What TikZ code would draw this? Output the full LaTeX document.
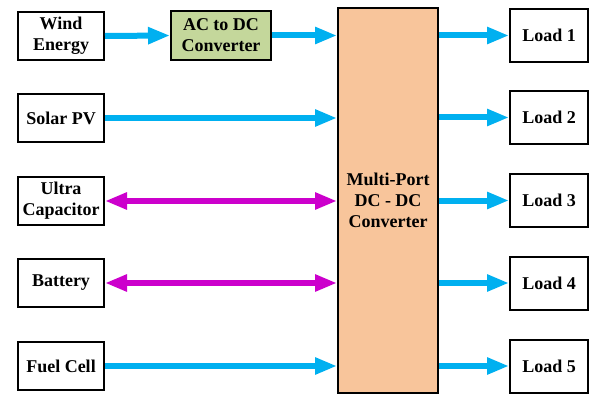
\documentclass[tikz,border=0pt]{standalone}
\usepackage{fontspec}
\setmainfont{Liberation Serif}
\usetikzlibrary{arrows.meta}
\definecolor{flowcyan}{RGB}{0,176,240}
\definecolor{flowmagenta}{RGB}{204,0,204}
\definecolor{convgreen}{RGB}{196,215,155}
\definecolor{hubpeach}{RGB}{248,197,155}
\begin{document}
\begin{tikzpicture}[x=1pt,y=-1pt,
  blk/.style={draw=black,line width=2pt,fill=white,align=center,inner sep=0pt,
    font=\fontsize{18}{21}\selectfont\bfseries},
  srcbox/.style={blk,minimum width=86pt,minimum height=48pt},
  loadbox/.style={blk,minimum width=78pt,minimum height=53pt},
  flow/.style={draw=flowcyan,line width=6pt,-{Triangle[length=22pt,width=16pt]},color=flowcyan},
  dualflow/.style={draw=flowmagenta,line width=6pt,{Triangle[length=22pt,width=16pt]}-{Triangle[length=22pt,width=16pt]},color=flowmagenta}]
\useasboundingbox (0,0) rectangle (593,395);

% sources
\node[srcbox] (wind) at (61,36) {Wind\\Energy};
\node[srcbox] (solar) at (61,118) {Solar PV};
\node[srcbox] (ultra) at (61,201) {Ultra\\Capacitor};
\node[srcbox] (batt) at (61,283) {Battery};
\node[srcbox] (fuel) at (61,366) {Fuel Cell};

% converters
\node[blk,fill=convgreen,minimum width=100pt,minimum height=49pt] (acdc) at (221,35.5) {AC to DC\\Converter};
\node[blk,fill=hubpeach,minimum width=100pt,minimum height=385pt] (hub) at (388,200.5) {Multi-Port\\DC - DC\\Converter};

% loads
\node[loadbox] (l1) at (549,35.5) {Load 1};
\node[loadbox] (l2) at (549,117.5) {Load 2};
\node[loadbox] (l3) at (549,200.5) {Load 3};
\node[loadbox] (l4) at (549,283) {Load 4};
\node[loadbox] (l5) at (549,366) {Load 5};

% input flows
\draw[flow] (wind.east) -- (acdc.west);
\draw[flow] (acdc.east) -- (acdc.east -| hub.west);
\draw[flow] (solar.east) -- (solar.east -| hub.west);
\draw[dualflow] (ultra.east) -- (ultra.east -| hub.west);
\draw[dualflow] (batt.east) -- (batt.east -| hub.west);
\draw[flow] (fuel.east) -- (fuel.east -| hub.west);

% output flows
\foreach \n in {l1,l2,l3,l4,l5}
  \draw[flow] (hub.east |- \n.west) -- (\n.west);
\end{tikzpicture}
\end{document}
